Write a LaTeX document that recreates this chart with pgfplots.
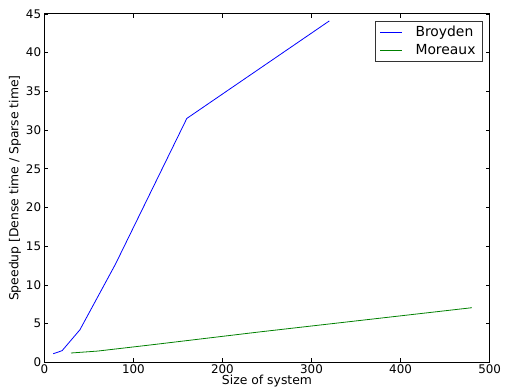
\documentclass[border=0pt]{standalone}
\usepackage{pgfplots}
\pgfplotsset{compat=1.18}
\usepackage{fontspec}
\setmainfont{DejaVu Sans}
\begin{document}
\fontsize{12}{14}\selectfont
\begin{tikzpicture}
\begin{axis}[
  scale only axis,
  width=447.5bp, height=350bp,
  xmin=0, xmax=500, ymin=0, ymax=45,
  xtick={0,100,...,500}, ytick={0,5,...,45},
  tick align=inside, major tick length=4bp,
  xtick pos=both, ytick pos=both,
  minor tick num=0,
  axis line style={black, line width=0.9bp},
  every tick/.style={black, line width=0.7bp},
  /pgf/number format/assume math mode=true,
  tick label style={font=\fontsize{12}{14}\selectfont},
  xticklabel style={yshift=2bp},
  yticklabel style={xshift=1bp},
  xlabel={Size of system},
  ylabel={Speedup [Dense time / Sparse time]},
  label style={font=\fontsize{12.5}{14}\selectfont},
  xlabel style={yshift=7bp},
  ylabel style={yshift=-3bp},
  legend style={at={(1,1)}, anchor=north east, xshift=-7bp, yshift=-7bp,
    draw=black!80, line width=0.6bp, font=\fontsize{14}{16}\selectfont,
    inner xsep=5bp, inner ysep=3bp, row sep=2bp},
  legend cell align=left,
  legend image code/.code={\draw[#1] (0cm,0cm) -- (22bp,0cm);},
]
\addplot[color={rgb,1:red,0;green,0;blue,1}, line width=0.8bp] coordinates {
 (10,1.1) (20,1.5) (40,4.2) (80,12.7) (160,31.5) (320,44.1)};
\addlegendentry{\hspace{11bp}Broyden}
\addplot[color={rgb,1:red,0;green,0.5;blue,0}, line width=0.8bp] coordinates {
 (30,1.2) (60,1.45) (120,2.25) (240,3.9) (480,7.05)};
\addlegendentry{\hspace{11bp}Moreaux}
\end{axis}
\useasboundingbox (-44.5bp,-27bp) rectangle (460.5bp,364bp);
\end{tikzpicture}
\end{document}
